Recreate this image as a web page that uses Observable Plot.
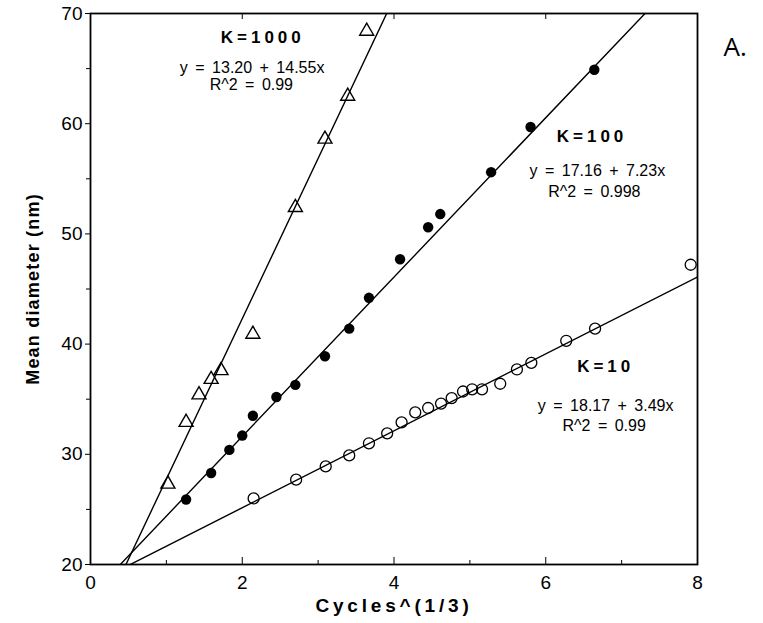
<!DOCTYPE html>
<html>
<head>
<meta charset="utf-8">
<script src="https://cdn.jsdelivr.net/npm/d3@7"></script>
<script src="https://cdn.jsdelivr.net/npm/@observablehq/plot@0.6"></script>
<style>
  html, body { margin: 0; padding: 0; background: #fff; }
  #chart svg { display: block; }
</style>
</head>
<body>
<div id="chart"></div>
<script>
// ---- data ----
const kLabels = ["K=1000", "K=100", "K=10"];
const intercepts = [13.20, 17.16, 18.17];
const slopes = [14.55, 7.23, 3.49];
const r2Values = ["0.99", "0.998", "0.99"];

// K=1000 (open triangles)
const k1000X = [1.02, 1.26, 1.43, 1.59, 1.72, 2.14, 2.70, 3.09, 3.39, 3.64];
const k1000Y = [27.3, 32.9, 35.4, 36.8, 37.6, 40.9, 52.4, 58.6, 62.5, 68.4];

// K=100 (filled circles)
const k100X = [1.26, 1.59, 1.83, 2.00, 2.14, 2.45, 2.70, 3.09, 3.41, 3.67, 4.08, 4.45, 4.61, 5.28, 5.80, 6.64];
const k100Y = [25.9, 28.3, 30.4, 31.7, 33.5, 35.2, 36.3, 38.9, 41.4, 44.2, 47.7, 50.6, 51.8, 55.6, 59.7, 64.9];

// K=10 (open circles)
const k10X = [2.15, 2.71, 3.10, 3.41, 3.67, 3.91, 4.10, 4.28, 4.45, 4.62, 4.76, 4.91, 5.03, 5.16, 5.40, 5.62, 5.81, 6.27, 6.65, 7.91];
const k10Y = [26.0, 27.7, 28.9, 29.9, 31.0, 31.9, 32.9, 33.8, 34.2, 34.6, 35.1, 35.7, 35.9, 35.9, 36.4, 37.7, 38.3, 40.3, 41.4, 47.2];

const xTicks = [0, 2, 4, 6, 8];
const xMinor = [1, 3, 5, 7];
const yTicks = [20, 30, 40, 50, 60, 70];
const yMinor = [25, 35, 45, 55, 65];
const xDomain = [0, 8];
const yDomain = [20, 70];

// annotation anchor points (data coordinates)
const kLabelX = [2.27, 6.61, 6.79];
const kLabelY = [67.8, 58.8, 38.0];
const eqX = [2.13, 6.68, 6.79];
const eqY = [65.1, 55.7, 34.4];
const rX = [2.12, 6.64, 6.77];
const rY = [63.5, 53.8, 32.6];

// ---- build tables ----
const pts = (xs, ys) => xs.map((x, i) => ({x, y: ys[i]}));
const fits = kLabels.map((k, i) => xDomain.map(x => ({k, x, y: intercepts[i] + slopes[i] * x})));
const annK = kLabels.map((t, i) => ({t, x: kLabelX[i], y: kLabelY[i]}));
const annEq = kLabels.map((k, i) => ({t: `y = ${intercepts[i].toFixed(2)} + ${slopes[i].toFixed(2)}x`, x: eqX[i], y: eqY[i]}));
const annR = kLabels.map((k, i) => ({t: `R^2 = ${r2Values[i]}`, x: rX[i], y: rY[i]}));

const font = "'Liberation Sans', Arial, Helvetica, sans-serif";
const tickFont = "'Liberation Sans Narrow', 'Liberation Sans', Arial, sans-serif";

const chart = Plot.plot({
  width: 763,
  height: 623,
  marginLeft: 90,
  marginRight: 66,
  marginTop: 13,
  marginBottom: 59,
  style: {fontFamily: font, fontSize: "17px", color: "#000", background: "#fff", overflow: "visible"},
  x: {domain: xDomain},
  y: {domain: yDomain},
  marks: [
    // fitted lines
    ...fits.map(f => Plot.line(f, {x: "x", y: "y", stroke: "#000", strokeWidth: 1.4, clip: true})),
    // points
    Plot.dot(pts(k1000X, k1000Y), {x: "x", y: "y", symbol: "triangle", r: 5.2, stroke: "#000", strokeWidth: 1.4, fill: "none"}),
    Plot.dot(pts(k100X, k100Y), {x: "x", y: "y", symbol: "circle", r: 5.2, fill: "#000", stroke: "none"}),
    Plot.dot(pts(k10X, k10Y), {x: "x", y: "y", symbol: "circle", r: 5.5, stroke: "#000", strokeWidth: 1.3, fill: "none"}),
    // frame
    Plot.frame({stroke: "#000", strokeWidth: 1.8}),
    // y axis (outward ticks)
    Plot.axisY({ticks: yTicks, tickSize: 5, tickPadding: 3, fontSize: 19, fontFamily: tickFont, label: null, tickFormat: d => String(d)}),
    Plot.axisY({ticks: yMinor, tickSize: 4, text: null, label: null}),
    // x axis (inward ticks)
    Plot.axisX({ticks: xTicks, tickSize: 0, tickPadding: 11, fontSize: 19, fontFamily: tickFont, label: null, tickFormat: d => String(d)}),
    Plot.axisX({ticks: xTicks, tickSize: -7, text: null, label: null}),
    Plot.axisX({ticks: xMinor, tickSize: -4, text: null, label: null}),
    Plot.axisX({anchor: "top", ticks: xTicks, tickSize: -5, text: null, label: null}),
    // annotations
    Plot.text(annK, {x: "x", y: "y", text: "t", fontSize: 17, fontWeight: "bold"}),
    Plot.text(annEq, {x: "x", y: "y", text: "t", fontSize: 16}),
    Plot.text(annR, {x: "x", y: "y", text: "t", fontSize: 16}),
    // axis titles
    Plot.text(["Mean diameter (nm)"], {frameAnchor: "left", dx: -57, rotate: -90, textAnchor: "middle", fontSize: 18, fontWeight: "bold"}),
    Plot.text(["Cycles^(1/3)"], {frameAnchor: "bottom", dy: 47, fontSize: 19, fontWeight: "bold"}),
    // panel letter
    Plot.text(["A."], {frameAnchor: "top-right", dx: 26, dy: 24, textAnchor: "start", fontSize: 26, fontFamily: "'Open Sans', 'DejaVu Sans', sans-serif"})
  ]
});
document.getElementById("chart").appendChild(chart);

// letter / word spacing tweaks to match the original typesetting
const svg = d3.select(chart);
svg.selectAll("text").each(function() {
  const t = this.textContent;
  const s = d3.select(this);
  if (kLabels.includes(t)) s.style("letter-spacing", "4px");
  else if (t === "Mean diameter (nm)") s.style("letter-spacing", "1.2px");
  else if (t === "Cycles^(1/3)") s.style("letter-spacing", "3.8px");
  else if (t.startsWith("y = ") || t.startsWith("R^2")) s.style("word-spacing", "3px");
});
</script>
</body>
</html>
